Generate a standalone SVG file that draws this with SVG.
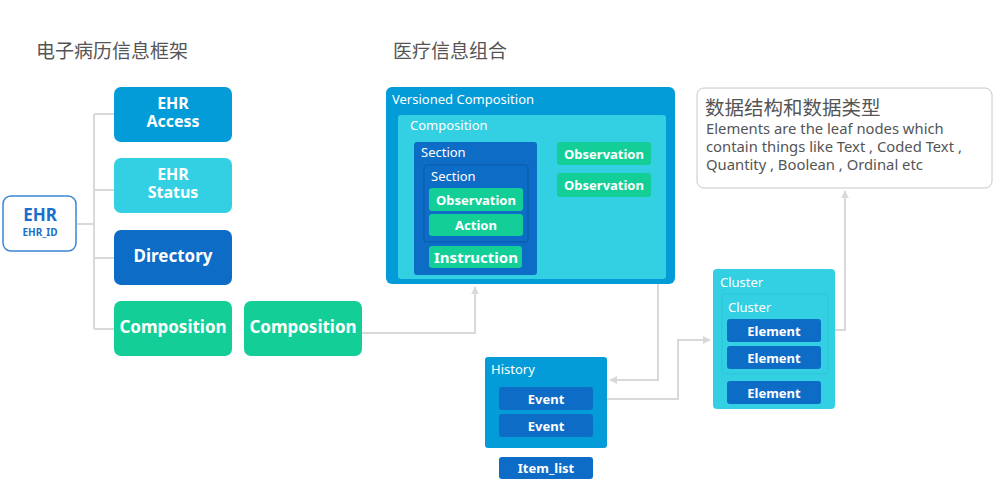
<svg xmlns="http://www.w3.org/2000/svg" width="994" height="503" viewBox="0 0 994 503">
<defs>
<marker id="arr" viewBox="0 0 10 10" refX="9" refY="5" markerWidth="4" markerHeight="4" orient="auto" markerUnits="strokeWidth">
<path d="M0,0 L10,5 L0,10 z" fill="#d9d9d9"/>
</marker>
<style>
.t{font-family:"Noto Sans CJK SC","Noto Sans",sans-serif;fill:#555;}
.ne{font-family:"Noto Sans","Open Sans",sans-serif;fill:#555;font-size:14.8px;}
.en{font-family:"Noto Sans","Open Sans",sans-serif;}
.wb{font-family:"Noto Sans","Open Sans",sans-serif;font-weight:bold;fill:#fff;text-anchor:middle;}
.wl{font-family:"Noto Sans","Open Sans",sans-serif;fill:#fff;font-size:13px;}
.c1{fill:#039cd8;}
.c2{fill:#33d0e3;}
.c3{fill:#0d6cc6;}
.c4{fill:#13cf97;}
.ln{fill:none;stroke:#d9d9d9;stroke-width:2;}
</style>
</defs>
<rect width="994" height="503" fill="#fff"/>
<text class="t" x="36" y="58" font-size="19">电子病历信息框架</text>
<text class="t" x="393" y="58" font-size="19">医疗信息组合</text>

<g id="connectors">
<path class="ln" d="M77,224 H94 M94,114 V329 M94,114 H114 M94,190 H114 M94,258 H114 M94,329 H114"/>
<path class="ln" d="M362,333 H475 V287" marker-end="url(#arr)"/>
<path class="ln" d="M651,154 H658 V380 H610" marker-end="url(#arr)"/>
<path class="ln" d="M593,399 H678 V340 H710" marker-end="url(#arr)"/>
<path class="ln" d="M821,330 H845 V191" marker-end="url(#arr)"/>
</g>

<g id="ehr">
<rect x="3" y="196" width="73" height="55" rx="8" fill="#fff" stroke="#3a86d6" stroke-width="1.5"/>
<text class="en" x="40" y="221" font-size="17" font-weight="bold" fill="#1a6fc8" text-anchor="middle">EHR</text>
<text class="en" x="40" y="236" font-size="10" font-weight="bold" fill="#1a6fc8" text-anchor="middle">EHR_ID</text>
</g>
<g id="ehr-access">
<rect class="c1" x="114" y="87" width="118" height="55" rx="7"/>
<text class="wb" x="173" y="109" font-size="16"><tspan x="173">EHR</tspan><tspan x="173" dy="18">Access</tspan></text>
</g>
<g id="ehr-status">
<rect class="c2" x="114" y="158" width="118" height="55" rx="7"/>
<text class="wb" x="173" y="180" font-size="16"><tspan x="173">EHR</tspan><tspan x="173" dy="18">Status</tspan></text>
</g>
<g id="directory">
<rect class="c3" x="114" y="230" width="118" height="55" rx="7"/>
<text class="wb" x="173" y="262" font-size="17">Directory</text>
</g>
<g id="composition1">
<rect class="c4" x="114" y="301" width="118" height="55" rx="7"/>
<text class="wb" x="173" y="333" font-size="17">Composition</text>
</g>
<g id="composition2">
<rect class="c4" x="244" y="301" width="118" height="55" rx="7"/>
<text class="wb" x="303" y="333" font-size="17">Composition</text>
</g>

<g id="versioned-composition">
<rect class="c1" x="386" y="87" width="289" height="197" rx="6"/>
<text class="wl" x="392" y="104">Versioned Composition</text>
<rect class="c2" x="398" y="115" width="268" height="164" rx="3"/>
<text class="wl" x="410" y="130">Composition</text>
<rect class="c3" x="414" y="142" width="123" height="133" rx="3"/>
<text class="wl" x="421" y="157">Section</text>
<rect x="424" y="165" width="104" height="77" rx="2" fill="#0d6cc6" stroke="#0a5aa8" stroke-width="1"/>
<text class="wl" x="431" y="181">Section</text>
<rect class="c4" x="429" y="188" width="94" height="23" rx="3"/>
<text class="wb" x="476" y="204.5" font-size="13">Observation</text>
<rect class="c4" x="429" y="214" width="94" height="22" rx="3"/>
<text class="wb" x="476" y="230" font-size="13">Action</text>
<rect class="c4" x="429" y="246" width="93" height="22" rx="3"/>
<text class="wb" x="476" y="262.5" font-size="15">Instruction</text>
<rect class="c4" x="557" y="142" width="94" height="23" rx="3"/>
<text class="wb" x="604" y="158.5" font-size="13">Observation</text>
<rect class="c4" x="557" y="173" width="94" height="24" rx="3"/>
<text class="wb" x="604" y="190" font-size="13">Observation</text>
</g>

<g id="history">
<rect class="c1" x="485" y="357" width="122" height="91" rx="3"/>
<text class="wl" x="491" y="374">History</text>
<rect class="c3" x="499" y="387" width="94" height="23" rx="3"/>
<text class="wb" x="546" y="403.5" font-size="13">Event</text>
<rect class="c3" x="499" y="414" width="94" height="23" rx="3"/>
<text class="wb" x="546" y="430.5" font-size="13">Event</text>
</g>
<g id="item-list">
<rect class="c3" x="499" y="457" width="94" height="22" rx="3"/>
<text class="wb" x="546" y="473" font-size="13">Item_list</text>
</g>

<g id="cluster">
<rect class="c2" x="713" y="269" width="122" height="140" rx="4"/>
<text class="wl" x="720" y="287">Cluster</text>
<rect x="722" y="294" width="106" height="80" rx="3" fill="#33d0e3" stroke="#2cc3d6" stroke-width="1"/>
<text class="wl" x="728" y="312">Cluster</text>
<rect class="c3" x="727" y="319" width="94" height="23" rx="3"/>
<text class="wb" x="774" y="335.5" font-size="13">Element</text>
<rect class="c3" x="727" y="346" width="94" height="23" rx="3"/>
<text class="wb" x="774" y="362.5" font-size="13">Element</text>
<rect class="c3" x="727" y="381" width="94" height="23" rx="3"/>
<text class="wb" x="774" y="397.5" font-size="13">Element</text>
</g>

<g id="data-types-note">
<rect x="697" y="88" width="295" height="100" rx="7" fill="#fff" stroke="#c8c8c8" stroke-width="1"/>
<text class="t" x="705" y="115" font-size="19.5">数据结构和数据类型</text>
<text class="ne" x="706" y="134">Elements are the leaf nodes which</text>
<text class="ne" x="706" y="152">contain things like Text , Coded Text ,</text>
<text class="ne" x="706" y="170">Quantity , Boolean , Ordinal etc</text>
</g>
</svg>
